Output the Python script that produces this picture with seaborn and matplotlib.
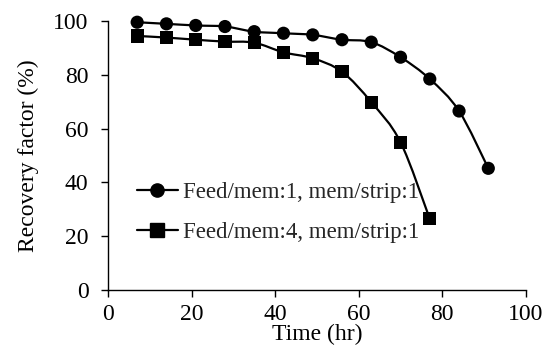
import numpy as np
import pandas as pd
import matplotlib
matplotlib.use("Agg")
import matplotlib.pyplot as plt
from matplotlib.path import Path
from matplotlib.patches import PathPatch
from matplotlib.lines import Line2D
import seaborn as sns

# ---- data ----
time_a = [7, 14, 21, 28, 35, 42, 49, 56, 63, 70, 77, 84, 91]
rec_a = [99.5, 98.9, 98.3, 97.9, 96.0, 95.4, 94.8, 93.0, 92.1, 86.5, 78.4, 66.5, 45.2]
time_b = [7, 14, 21, 28, 35, 42, 49, 56, 63, 70, 77]
rec_b = [94.4, 93.8, 93.0, 92.3, 91.9, 88.3, 86.1, 81.1, 69.8, 54.9, 26.4]
label_a = "Feed/mem:1, mem/strip:1"
label_b = "Feed/mem:4, mem/strip:1"
x_ticks = [0, 20, 40, 60, 80, 100]
y_ticks = [0, 20, 40, 60, 80, 100]

sns.set_theme(style="white")
plt.rcParams["font.family"] = ["Liberation Serif", "DejaVu Serif"]

df = pd.concat([
    pd.DataFrame({"Time": time_a, "Recovery": rec_a, "Series": label_a}),
    pd.DataFrame({"Time": time_b, "Recovery": rec_b, "Series": label_b}),
])

fig = plt.figure(figsize=(5.45, 3.54), dpi=100)
ax = fig.add_axes([0.198, 0.181, 0.767, 0.760])


def smooth_path(xs, ys):
    # Excel-style smoothed line: cubic Bezier segments through the data points
    pts = np.column_stack([xs, ys]).astype(float)
    n = len(pts)
    verts = [pts[0]]
    codes = [Path.MOVETO]
    for i in range(n - 1):
        p0 = pts[i - 1] if i > 0 else pts[i]
        p1 = pts[i]
        p2 = pts[i + 1]
        p3 = pts[i + 2] if i + 2 < n else pts[i + 1]
        c1 = p1 + (p2 - p0) / 6.0
        c2 = p2 - (p3 - p1) / 6.0
        verts += [c1, c2, p2]
        codes += [Path.CURVE4] * 3
    return Path(verts, codes)


for xs, ys in [(time_a, rec_a), (time_b, rec_b)]:
    ax.add_patch(PathPatch(smooth_path(xs, ys), facecolor="none",
                           edgecolor="black", lw=1.6, zorder=2, clip_on=False))

sns.scatterplot(data=df, x="Time", y="Recovery", style="Series",
                markers={label_a: "o", label_b: "s"}, color="black",
                s=90, edgecolor="black", linewidth=0, ax=ax, legend=False,
                zorder=3, clip_on=False)

ax.set_xlim(0, 100)
ax.set_ylim(0, 100)
ax.set_xticks(x_ticks)
ax.set_yticks(y_ticks)
ax.tick_params(axis="both", which="major", direction="out", length=5,
               width=1, color="black", labelsize=17, left=True,
               bottom=True, labelcolor="black")
ax.tick_params(axis="x", pad=5)
ax.tick_params(axis="y", pad=9)
for s in ["top", "right"]:
    ax.spines[s].set_visible(False)
for s in ["left", "bottom"]:
    ax.spines[s].set_color("black")
    ax.spines[s].set_linewidth(1)

ax.set_xlabel("Time (hr)", fontsize=17, color="black", labelpad=-1)
ax.set_ylabel("Recovery factor (%)", fontsize=17, color="black", labelpad=10)

handles = [
    Line2D([], [], color="black", lw=1.6, marker="o", markersize=9.5),
    Line2D([], [], color="black", lw=1.6, marker="s", markersize=9.5),
]
ax.legend(handles, [label_a, label_b], loc="upper left",
          bbox_to_anchor=(0.069, 0.40), frameon=False, fontsize=16.5,
          handlelength=1.8, handletextpad=0.2, labelspacing=0.82,
          borderaxespad=0, borderpad=0)

fig.savefig("out.png", dpi=100)
